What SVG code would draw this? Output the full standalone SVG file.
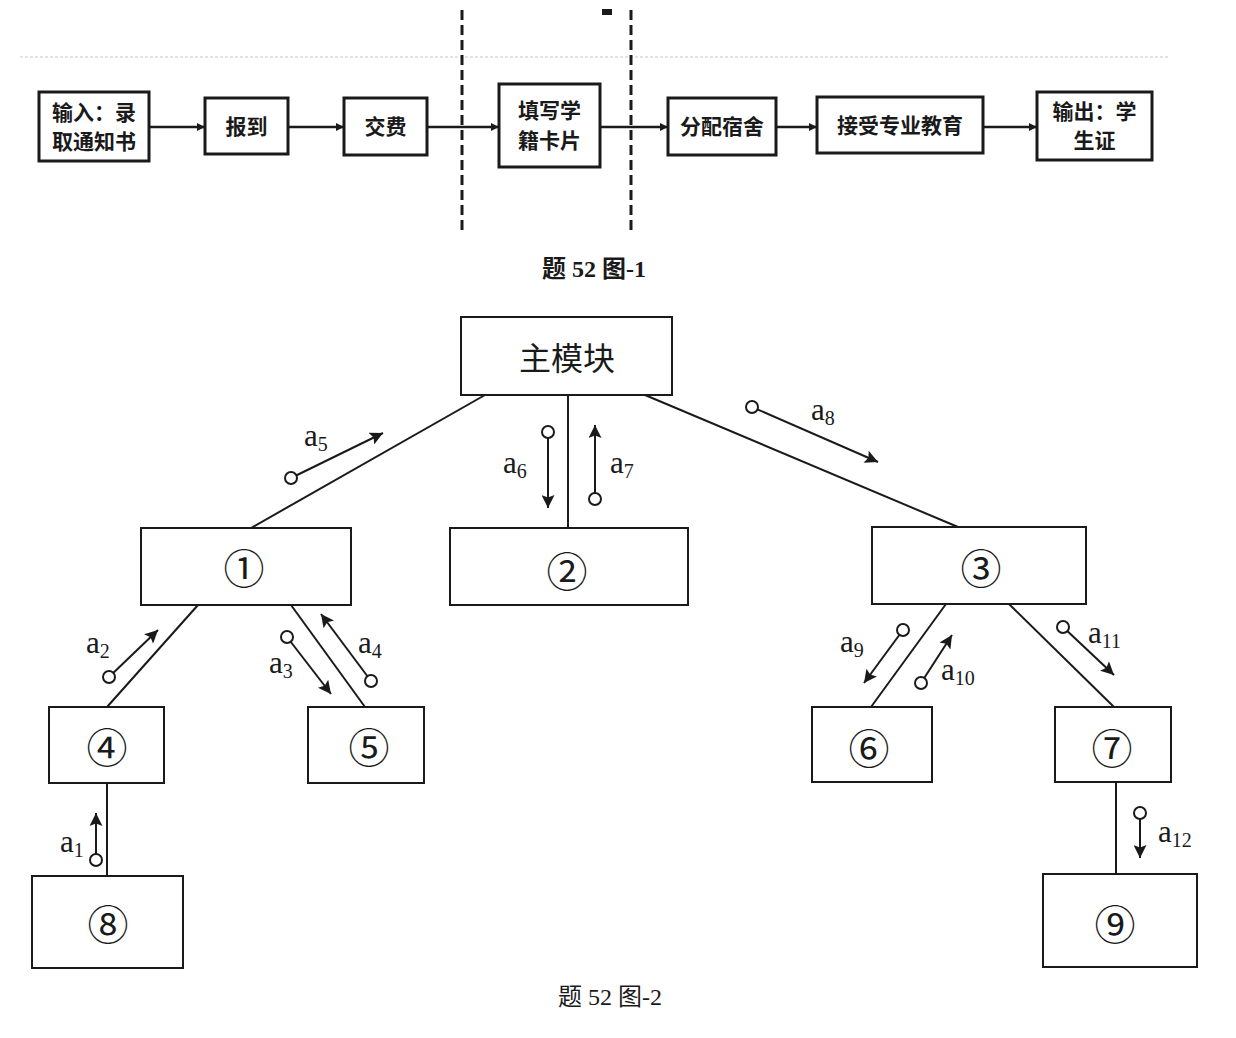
<svg xmlns="http://www.w3.org/2000/svg" width="1236" height="1038" viewBox="0 0 1236 1038">
<style>
  .bg { fill: #ffffff; }
  .fbox { fill: #ffffff; stroke: #1a1a1a; stroke-width: 3; }
  .tbox { fill: #ffffff; stroke: #1a1a1a; stroke-width: 2; }
  .ftxt { font-family: "Noto Sans CJK SC", "Noto Sans CJK TC", sans-serif; font-size: 21px; font-weight: bold; fill: #1a1a1a; text-anchor: middle; }
  .flow { stroke: #1a1a1a; stroke-width: 2.5; fill: none; }
  .dash { stroke: #1a1a1a; stroke-width: 3; stroke-dasharray: 10 5; fill: none; }
  .edge { stroke: #1a1a1a; stroke-width: 2; fill: none; }
  .df { stroke: #1a1a1a; stroke-width: 2; fill: none; }
  .dot { fill: #ffffff; stroke: #1a1a1a; stroke-width: 2; }
  .num { font-family: "Noto Sans CJK SC", "DejaVu Sans", sans-serif; font-size: 41px; fill: #1a1a1a; text-anchor: middle; dominant-baseline: central; }
  .main { font-family: "Noto Sans CJK SC", sans-serif; font-size: 32px; fill: #1a1a1a; text-anchor: middle; dominant-baseline: central; }
  .lbl { font-family: "Liberation Serif", "DejaVu Serif", serif; font-size: 31px; fill: #1a1a1a; }
  .sub { font-size: 20px; }
  .cap { font-family: "Liberation Serif", "Noto Sans CJK SC", serif; font-size: 24px; fill: #1a1a1a; text-anchor: middle; }
</style>
<defs>
  <marker id="fa" viewBox="0 0 10 10" refX="10" refY="5" markerWidth="10" markerHeight="8" markerUnits="userSpaceOnUse" orient="auto">
    <path d="M0,0 L10,5 L0,10 z" fill="#1a1a1a"/>
  </marker>
  <marker id="da" viewBox="0 0 10 10" refX="10" refY="5" markerWidth="17" markerHeight="13" markerUnits="userSpaceOnUse" orient="auto">
    <path d="M0,0 L10,5 L0,10 L2,5 z" fill="#1a1a1a"/>
  </marker>
</defs>
<rect class="bg" x="0" y="0" width="1236" height="1038"/>

<!-- scan artifacts -->
<line x1="20" y1="57" x2="1170" y2="57" stroke="#c8c8c8" stroke-width="1.2" stroke-dasharray="3 2"/>
<rect x="602" y="9" width="10" height="6" fill="#1a1a1a"/>

<!-- Figure 1 connectors -->
<g id="flow-connectors">
  <line class="dash" x1="462" y1="10" x2="462" y2="230"/>
  <line class="dash" x1="631" y1="10" x2="631" y2="230"/>
  <line class="flow" x1="149" y1="127" x2="205" y2="127" marker-end="url(#fa)"/>
  <line class="flow" x1="288" y1="127" x2="344" y2="127" marker-end="url(#fa)"/>
  <line class="flow" x1="427" y1="127" x2="499" y2="127" marker-end="url(#fa)"/>
  <line class="flow" x1="600" y1="127" x2="668" y2="127" marker-end="url(#fa)"/>
  <line class="flow" x1="776" y1="127" x2="817" y2="127" marker-end="url(#fa)"/>
  <line class="flow" x1="983" y1="127" x2="1037" y2="127" marker-end="url(#fa)"/>
</g>

<!-- Figure 1 nodes -->
<g id="f-input">
  <rect class="fbox" x="39" y="92" width="110" height="69"/>
  <text class="ftxt" x="94" y="120">输入：录</text>
  <text class="ftxt" x="94" y="149">取通知书</text>
</g>
<g id="f-report">
  <rect class="fbox" x="205" y="98" width="83" height="56"/>
  <text class="ftxt" x="246.5" y="134">报到</text>
</g>
<g id="f-pay">
  <rect class="fbox" x="344" y="98" width="83" height="57"/>
  <text class="ftxt" x="385.5" y="134">交费</text>
</g>
<g id="f-card">
  <rect class="fbox" x="499" y="84" width="101" height="83"/>
  <text class="ftxt" x="549.5" y="118">填写学</text>
  <text class="ftxt" x="549.5" y="148">籍卡片</text>
</g>
<g id="f-dorm">
  <rect class="fbox" x="668" y="98" width="108" height="57"/>
  <text class="ftxt" x="722" y="134">分配宿舍</text>
</g>
<g id="f-edu">
  <rect class="fbox" x="817" y="97" width="166" height="56"/>
  <text class="ftxt" x="900" y="133">接受专业教育</text>
</g>
<g id="f-output">
  <rect class="fbox" x="1037" y="92" width="115" height="68"/>
  <text class="ftxt" x="1094.5" y="119">输出：学</text>
  <text class="ftxt" x="1094.5" y="148">生证</text>
</g>

<text id="caption1" class="cap" x="594" y="277" font-weight="bold"><tspan font-family="Noto Sans CJK SC, sans-serif">题</tspan> 52 <tspan font-family="Noto Sans CJK SC, sans-serif">图</tspan>-1</text>

<!-- Figure 2 connectors -->
<g id="tree-connectors">
  <line class="edge" x1="485" y1="395" x2="251" y2="528"/>
  <line class="edge" x1="568" y1="395" x2="568" y2="528"/>
  <line class="edge" x1="645" y1="395" x2="958" y2="527"/>
  <line class="edge" x1="198" y1="605" x2="107" y2="707"/>
  <line class="edge" x1="291" y1="605" x2="365" y2="707"/>
  <line class="edge" x1="946" y1="604" x2="871" y2="707"/>
  <line class="edge" x1="1009" y1="604" x2="1114" y2="707"/>
  <line class="edge" x1="107" y1="783" x2="107" y2="876"/>
  <line class="edge" x1="1116" y1="782" x2="1116" y2="874"/>

  <!-- data flows -->
  <g id="a5">
    <line class="df" x1="291" y1="478" x2="383" y2="433" marker-end="url(#da)"/>
    <circle class="dot" cx="291" cy="478" r="6"/>
    <text class="lbl" x="304" y="446">a<tspan class="sub" dy="5">5</tspan></text>
  </g>
  <g id="a6">
    <line class="df" x1="548" y1="432" x2="548" y2="508" marker-end="url(#da)"/>
    <circle class="dot" cx="548" cy="432" r="6"/>
    <text class="lbl" x="503" y="473">a<tspan class="sub" dy="5">6</tspan></text>
  </g>
  <g id="a7">
    <line class="df" x1="595" y1="499" x2="595" y2="425" marker-end="url(#da)"/>
    <circle class="dot" cx="595" cy="499" r="6"/>
    <text class="lbl" x="610" y="473">a<tspan class="sub" dy="5">7</tspan></text>
  </g>
  <g id="a8">
    <line class="df" x1="752" y1="407" x2="878" y2="462" marker-end="url(#da)"/>
    <circle class="dot" cx="752" cy="407" r="6"/>
    <text class="lbl" x="811" y="420">a<tspan class="sub" dy="5">8</tspan></text>
  </g>
  <g id="a2">
    <line class="df" x1="109" y1="677" x2="158" y2="630" marker-end="url(#da)"/>
    <circle class="dot" cx="109" cy="677" r="6"/>
    <text class="lbl" x="86" y="653">a<tspan class="sub" dy="5">2</tspan></text>
  </g>
  <g id="a3">
    <line class="df" x1="287" y1="637" x2="331" y2="694" marker-end="url(#da)"/>
    <circle class="dot" cx="287" cy="637" r="6"/>
    <text class="lbl" x="269" y="673">a<tspan class="sub" dy="5">3</tspan></text>
  </g>
  <g id="a4">
    <line class="df" x1="371" y1="681" x2="321" y2="614" marker-end="url(#da)"/>
    <circle class="dot" cx="371" cy="681" r="6"/>
    <text class="lbl" x="358" y="653">a<tspan class="sub" dy="5">4</tspan></text>
  </g>
  <g id="a1">
    <line class="df" x1="96" y1="860" x2="96" y2="813" marker-end="url(#da)"/>
    <circle class="dot" cx="96" cy="860" r="6"/>
    <text class="lbl" x="60" y="852">a<tspan class="sub" dy="5">1</tspan></text>
  </g>
  <g id="a9">
    <line class="df" x1="903" y1="630" x2="864" y2="683" marker-end="url(#da)"/>
    <circle class="dot" cx="903" cy="630" r="6"/>
    <text class="lbl" x="840" y="652">a<tspan class="sub" dy="5">9</tspan></text>
  </g>
  <g id="a10">
    <line class="df" x1="921" y1="683" x2="952" y2="635" marker-end="url(#da)"/>
    <circle class="dot" cx="921" cy="683" r="6"/>
    <text class="lbl" x="941" y="680">a<tspan class="sub" dy="5">10</tspan></text>
  </g>
  <g id="a11">
    <line class="df" x1="1063" y1="627" x2="1114" y2="675" marker-end="url(#da)"/>
    <circle class="dot" cx="1063" cy="627" r="6"/>
    <text class="lbl" x="1088" y="643">a<tspan class="sub" dy="5">11</tspan></text>
  </g>
  <g id="a12">
    <line class="df" x1="1140" y1="813" x2="1140" y2="858" marker-end="url(#da)"/>
    <circle class="dot" cx="1140" cy="813" r="6"/>
    <text class="lbl" x="1158" y="842">a<tspan class="sub" dy="5">12</tspan></text>
  </g>
</g>

<!-- Figure 2 nodes -->
<g id="n-main">
  <rect class="tbox" x="461" y="317" width="211" height="78"/>
  <text class="main" x="567" y="356">主模块</text>
</g>
<g id="n1">
  <rect class="tbox" x="141" y="528" width="210" height="77"/>
  <text class="num" x="244" y="566">①</text>
</g>
<g id="n2">
  <rect class="tbox" x="450" y="528" width="238" height="77"/>
  <text class="num" x="567" y="569">②</text>
</g>
<g id="n3">
  <rect class="tbox" x="872" y="527" width="214" height="77"/>
  <text class="num" x="981" y="566">③</text>
</g>
<g id="n4">
  <rect class="tbox" x="49" y="707" width="115" height="76"/>
  <text class="num" x="107" y="745">④</text>
</g>
<g id="n5">
  <rect class="tbox" x="308" y="707" width="116" height="76"/>
  <text class="num" x="369" y="745">⑤</text>
</g>
<g id="n6">
  <rect class="tbox" x="812" y="707" width="120" height="75"/>
  <text class="num" x="869" y="746">⑥</text>
</g>
<g id="n7">
  <rect class="tbox" x="1055" y="707" width="116" height="75"/>
  <text class="num" x="1112" y="746">⑦</text>
</g>
<g id="n8">
  <rect class="tbox" x="32" y="876" width="151" height="92"/>
  <text class="num" x="108" y="922">⑧</text>
</g>
<g id="n9">
  <rect class="tbox" x="1043" y="874" width="154" height="93"/>
  <text class="num" x="1115" y="922">⑨</text>
</g>

<text id="caption2" class="cap" x="610" y="1005"><tspan font-family="Noto Sans CJK SC, sans-serif">题</tspan> 52 <tspan font-family="Noto Sans CJK SC, sans-serif">图</tspan>-2</text>
</svg>
